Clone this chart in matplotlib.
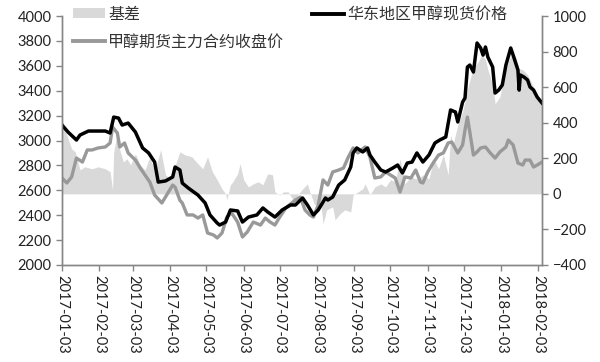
import matplotlib
matplotlib.use("Agg")
import matplotlib.pyplot as plt
from matplotlib.patches import Patch
from matplotlib.lines import Line2D
import numpy as np
import datetime as dt

plt.rcParams['font.family'] = ['Lato', 'Noto Sans CJK SC', 'DejaVu Sans']

base_date = "2017-01-03"

# day offsets from 2017-01-03 and values
spot_day = [0, 5, 12, 15, 22, 36, 40, 43, 47, 50, 55, 61, 67, 72, 77, 80, 86, 92, 94, 98,
            100, 105, 113, 119, 123, 129, 131, 136, 140, 146, 150, 155, 162, 167, 171, 177,
            183, 190, 194, 200, 204, 209, 213, 219, 221, 225, 230, 235, 240, 242, 245, 250,
            254, 256, 260, 265, 269, 275, 279, 283, 287, 291, 295, 300, 305, 310, 314, 319,
            323, 327, 329, 333, 335, 337, 339, 342, 345, 348, 350, 352, 354, 358, 360, 363,
            366, 369, 373, 375, 379, 380, 381, 384, 387, 389, 392, 395, 399]
spot_val = [3124, 3068, 3004, 3044, 3076, 3076, 3060, 3188, 3180, 3124, 3140, 3068, 2940, 2900,
            2827, 2666, 2675, 2707, 2787, 2763, 2658, 2618, 2562, 2498, 2402, 2337, 2321, 2345,
            2442, 2434, 2345, 2385, 2402, 2458, 2426, 2385, 2442, 2482, 2482, 2538, 2482, 2402,
            2442, 2538, 2522, 2546, 2642, 2683, 2787, 2900, 2940, 2908, 2940, 2883, 2827, 2763,
            2747, 2779, 2803, 2739, 2819, 2827, 2900, 2827, 2883, 2980, 3004, 3028, 3245, 3229,
            3149, 3309, 3341, 3590, 3606, 3550, 3783, 3743, 3686, 3751, 3670, 3590, 3381, 3405,
            3446, 3606, 3743, 3686, 3566, 3405, 3526, 3510, 3486, 3430, 3405, 3349, 3301]

fut_day = [0, 4, 8, 12, 17, 21, 25, 30, 36, 40, 42, 46, 48, 52, 55, 61, 65, 69, 73, 77, 83,
           87, 92, 94, 98, 100, 104, 109, 113, 117, 121, 126, 129, 133, 137, 141, 146, 150,
           154, 159, 165, 169, 173, 177, 181, 186, 191, 194, 198, 202, 206, 209, 213, 217,
           221, 225, 230, 234, 238, 242, 246, 252, 256, 260, 265, 269, 273, 277, 281, 285,
           290, 294, 298, 300, 304, 309, 313, 317, 321, 324, 329, 333, 335, 337, 339, 342,
           345, 348, 352, 356, 360, 364, 369, 371, 375, 379, 383, 385, 389, 392, 395, 399]
fut_val = [2699, 2659, 2707, 2859, 2827, 2924, 2924, 2940, 2948, 2980, 3108, 3060, 2948, 2980,
           2900, 2843, 2779, 2723, 2666, 2562, 2498, 2562, 2642, 2626, 2520, 2498, 2402, 2402,
           2377, 2402, 2257, 2241, 2217, 2257, 2385, 2418, 2345, 2225, 2265, 2345, 2321, 2377,
           2345, 2321, 2385, 2458, 2498, 2522, 2546, 2442, 2402, 2385, 2482, 2683, 2642, 2747,
           2763, 2779, 2867, 2940, 2900, 2948, 2867, 2699, 2707, 2747, 2723, 2699, 2586, 2707,
           2699, 2763, 2666, 2659, 2747, 2827, 2883, 2900, 2980, 2988, 2900, 2964, 3084, 3188,
           3068, 2883, 2908, 2940, 2948, 2900, 2859, 2908, 2948, 3004, 2964, 2819, 2803, 2843,
           2843, 2787, 2803, 2827]

basis_day = [0, 4, 8, 11, 15, 19, 25, 30, 36, 40, 42, 43, 46, 48, 51, 54, 57, 61, 65, 69, 73,
             77, 82, 86, 90, 96, 98, 102, 108, 113, 117, 121, 125, 129, 133, 136, 137, 140,
             142, 146, 148, 151, 155, 159, 163, 167, 171, 175, 177, 181, 184, 188, 192, 196,
             200, 204, 206, 210, 215, 217, 220, 225, 227, 231, 235, 240, 242, 246, 250, 252,
             256, 260, 265, 269, 273, 277, 281, 285, 290, 294, 298, 300, 305, 309, 313, 317,
             321, 323, 325, 329, 333, 338, 341, 344, 346, 349, 352, 354, 358, 360, 364, 367,
             371, 374, 377, 380, 383, 387, 391, 395, 399]
basis_val = [417, 332, 253, 236, 135, 152, 141, 152, 141, 124, 23, 236, 349, 248, 180, 197,
             163, 225, 163, 135, 208, 124, 248, 107, 84, 197, 236, 220, 208, 169, 141, 208,
             124, 79, 28, 0, -34, 51, 68, 113, 169, 79, 39, 56, 68, 51, 113, 107, 11, -6, 11,
             11, -34, -6, 28, 56, 11, -62, -45, -169, -90, -73, -146, -113, -90, -101, -6, 11,
             28, 56, -6, 39, 56, 39, 79, 68, 197, 56, 96, 84, 96, 107, 84, 197, 141, 220, 107,
             332, 276, 388, 462, 614, 687, 726, 743, 783, 754, 698, 614, 507, 546, 647, 743,
             788, 771, 704, 698, 670, 614, 557, 507]

month_ticks = ["2017-01-03", "2017-02-03", "2017-03-03", "2017-04-03", "2017-05-03",
               "2017-06-03", "2017-07-03", "2017-08-03", "2017-09-03", "2017-10-03",
               "2017-11-03", "2017-12-03", "2018-01-03", "2018-02-03"]
left_ticks = [2000, 2200, 2400, 2600, 2800, 3000, 3200, 3400, 3600, 3800, 4000]
right_ticks = [-400, -200, 0, 200, 400, 600, 800, 1000]

label_basis = "基差"
label_fut = "甲醇期货主力合约收盘价"
label_spot = "华东地区甲醇现货价格"

b0 = np.datetime64(base_date)
def to_dates(days):
    return (b0 + np.array(days, dtype="timedelta64[D]")).astype("datetime64[D]").astype(dt.datetime)

spot_x = to_dates(spot_day)
fut_x = to_dates(fut_day)
basis_x = to_dates(basis_day)

fig = plt.figure(figsize=(6.0, 3.62), dpi=100)
ax = fig.add_axes([62/600, 1-265/362, 480/600, 249/362])
ax2 = ax.twinx()

fill_c = "#d9d9d9"
fut_c = "#999999"
axis_c = "#868686"

ax2.fill_between(basis_x, basis_val, 0, color=fill_c, linewidth=0)
ax.plot(fut_x, fut_val, color=fut_c, lw=2.4, solid_joinstyle="round")
ax.plot(spot_x, spot_val, color="black", lw=2.5, solid_joinstyle="round")

ax.set_zorder(ax2.get_zorder() + 1)
ax.patch.set_visible(False)

ax.set_ylim(2000, 4000)
ax2.set_ylim(-400, 1000)
ax.set_yticks(left_ticks)
ax2.set_yticks(right_ticks)

xmin = b0.astype(dt.datetime)
xmax = (b0 + np.timedelta64(399, "D")).astype(dt.datetime) + dt.timedelta(hours=12)
ax.set_xlim(xmin, xmax)
tick_dates = [np.datetime64(t).astype(dt.datetime) for t in month_ticks]
ax.set_xticks(tick_dates)
ax.set_xticklabels(month_ticks, rotation=-90, ha="center", va="top")

for a in (ax, ax2):
    a.spines["top"].set_visible(False)
    for s in ("left", "right", "bottom"):
        a.spines[s].set_color(axis_c)
        a.spines[s].set_linewidth(1.0)
    a.tick_params(colors=axis_c, labelcolor="#222222", labelsize=10.5, length=4, width=1.0)
ax.tick_params(axis="x", pad=3)

leg_prop = {"family": ["Noto Sans CJK SC"], "size": 11.5}
def add_leg(handle, x_px, y_px):
    lg = fig.legend(handles=[handle], loc="center left",
                    bbox_to_anchor=(x_px/600, 1 - y_px/362), frameon=False, prop=leg_prop,
                    handlelength=2.0, handleheight=0.55, handletextpad=0.2,
                    borderaxespad=0, borderpad=0)
    for t in lg.get_texts():
        t.set_color("#333333")
    return lg

add_leg(Patch(facecolor=fill_c, edgecolor="none", label=label_basis), 73, 14)
add_leg(Line2D([0], [0], color=fut_c, lw=2.8, label=label_fut), 73, 42)
add_leg(Line2D([0], [0], color="black", lw=2.8, label=label_spot), 312, 15)

fig.savefig("out.png", dpi=100)
